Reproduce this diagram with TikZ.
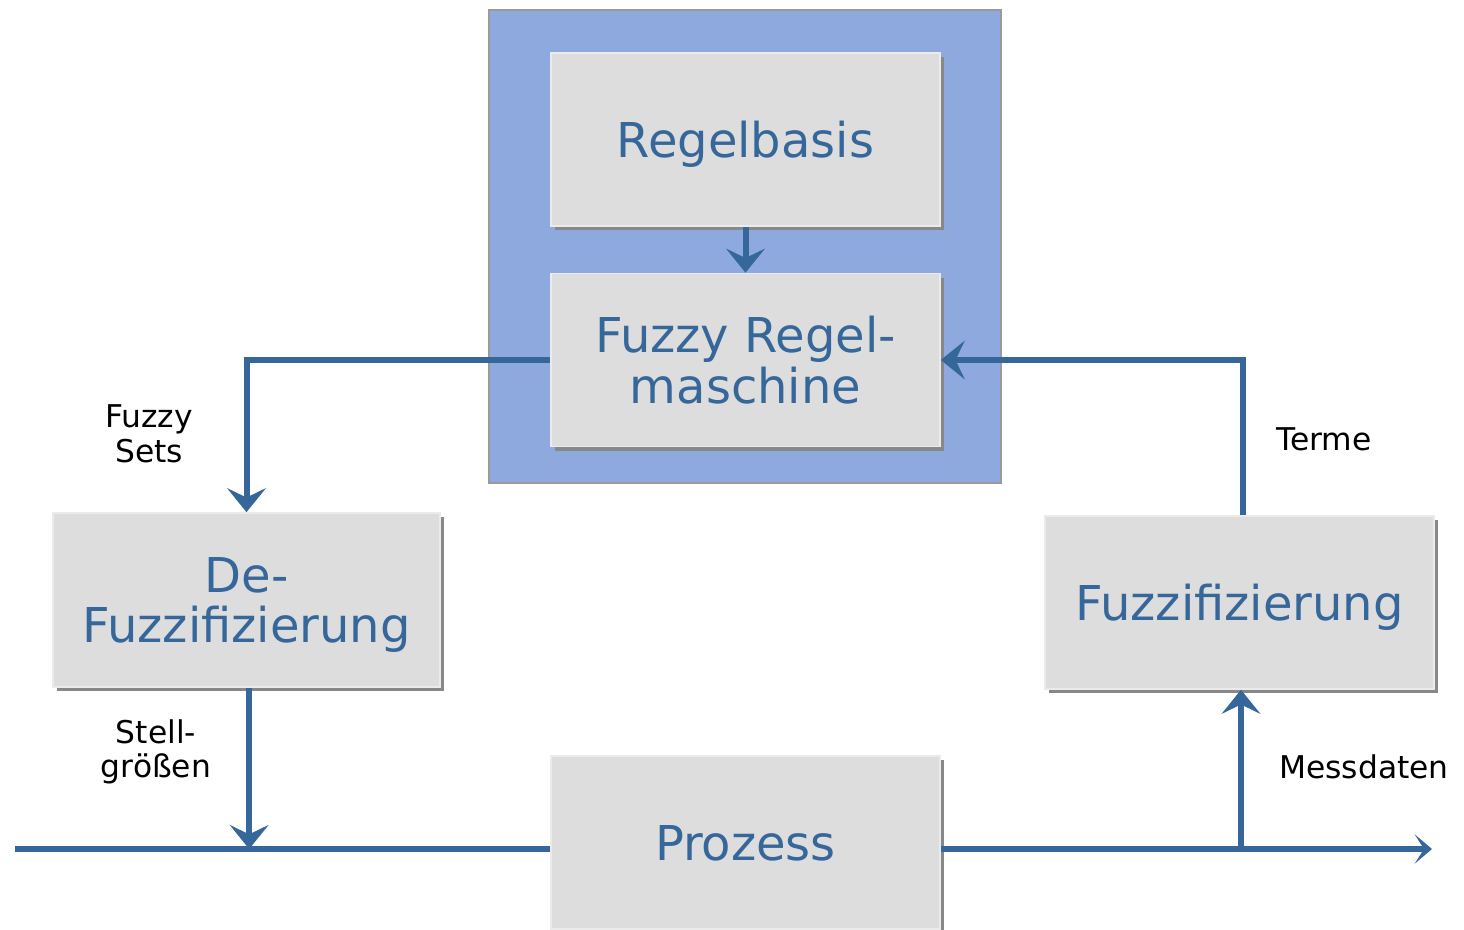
\documentclass[tikz,border=0pt]{standalone}
\usepackage{fontspec}
\setmainfont{DejaVu Sans}
\usetikzlibrary{arrows.meta,shadows}
\definecolor{flowblue}{HTML}{35679A}
\definecolor{panelblue}{HTML}{8EA9DD}
\definecolor{boxgray}{HTML}{DDDDDD}
\definecolor{shadowgray}{HTML}{888888}
\definecolor{framegray}{HTML}{9A9A9A}
\tikzset{
  blockbox/.style={rectangle, fill=boxgray, draw=white!92!black, line width=1.2pt,
    minimum width=291.75pt, minimum height=129.75pt, inner sep=0pt,
    text=flowblue, align=center, font=\fontsize{36}{38}\selectfont,
    drop shadow={shadow xshift=3pt, shadow yshift=-3pt, fill=shadowgray, opacity=1}},
  flow/.style={draw=flowblue, line width=4.5pt},
  flowarrow/.style={flow, -{Stealth[length=18pt, width=29pt, inset=7pt]}},
  flowarrowsmall/.style={flow, -{Stealth[length=13pt, width=22pt, inset=7pt]}},
  lbl/.style={align=center, text=black, font=\fontsize{23.5}{26}\selectfont, inner sep=0pt}
}
\begin{document}
\begin{tikzpicture}[x=0.75pt, y=-0.75pt]
\useasboundingbox (0,0) rectangle (1464,929);
% panel
\node[draw=framegray, fill=panelblue, line width=1.5pt, minimum width=384pt, minimum height=354.75pt, inner sep=0pt] (panel) at (745,246.5) {};
% boxes
\node[blockbox, text depth=0pt] (rb) at (745.5,139.5) {Regelbasis};
\node[blockbox] (fr) at (745.5,360) {Fuzzy Regel-\\maschine};
\node[blockbox, text depth=0pt, minimum width=290.25pt, minimum height=130.5pt] (df) at (246.5,600) {De-\\Fuzzifizierung};
\node[blockbox, text depth=0pt] (fz) at (1239.5,602.5) {Fuzzifizierung};
\node[blockbox, text depth=0pt] (pr) at (745.5,842.5) {Prozess};
% process line coordinates
\coordinate (pin) at (15,849);
\coordinate (pout) at (1432,849);
\coordinate (br) at (1241,849);
% connectors
\draw[flowarrow] (rb.south) -- (fr.north);
\draw[flowarrow] (fr.west) -| (df.north);
\draw[flowarrow] ([xshift=2.5pt]fz.north) |- (fr.east);
\draw[flowarrow] ([xshift=2pt]df.south) -- ([xshift=2pt]df.south |- pin);
\draw[flow] (pin) -- (pin -| pr.west);
\draw[flowarrowsmall] (pout -| pr.east) -- (pout);
\draw[flowarrow] (br) -- (br |- fz.south);
% labels
\node[lbl] (l1) at (149,434) {Fuzzy\\Sets};
\node[lbl] (l2) at (1324,439) {Terme};
\node[lbl] (l3) at (156,752) {Stell-\\größen};
\node[lbl] (l4) at (1364,767) {Messdaten};
\end{tikzpicture}
\end{document}
